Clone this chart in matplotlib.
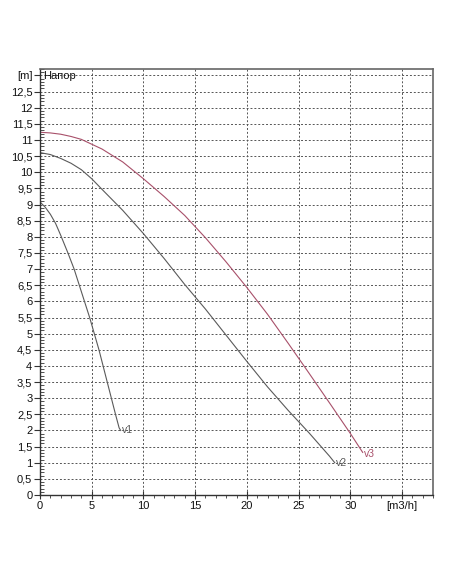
import matplotlib

matplotlib.use('Agg')
import matplotlib.pyplot as plt
from matplotlib.ticker import MultipleLocator

# pump curves: flow [m3/h] vs head [m]
v1_q = [0, 0.5, 1.0, 1.5, 2.0, 2.7, 3.3, 3.8, 4.3, 4.8, 5.25, 5.7, 6.1, 6.5, 6.9, 7.3, 7.65, 7.8]
v1_h = [9.08, 8.92, 8.7, 8.42, 8.05, 7.5, 7.0, 6.5, 6.0, 5.5, 5.0, 4.5, 4.0, 3.5, 3.0, 2.5, 2.08, 2.0]

v2_q = [0, 1, 2, 3, 4, 5, 6, 8, 10, 12, 14, 16, 18, 20, 22, 24, 26, 28, 28.5]
v2_h = [10.61, 10.55, 10.43, 10.28, 10.08, 9.8, 9.47, 8.82, 8.1, 7.33, 6.52, 5.76, 4.95, 4.14, 3.35, 2.62, 1.93, 1.2, 1.0]

v3_q = [0, 1, 2, 3, 4, 6, 8, 10, 12, 14, 16, 18, 20, 22, 24, 26, 28, 30, 31.2]
v3_h = [11.24, 11.22, 11.18, 11.11, 11.02, 10.72, 10.32, 9.8, 9.25, 8.66, 7.97, 7.22, 6.43, 5.6, 4.7, 3.78, 2.85, 1.91, 1.32]

x_ticks = [0, 5, 10, 15, 20, 25, 30, 35]
x_labels = ['0', '5', '10', '15', '20', '25', '30', '[m3/h]']
y_ticks = [i * 0.5 for i in range(27)]
y_labels = [f'{v:g}'.replace('.', ',') for v in y_ticks[:-1]] + ['[m]']

plt.rcParams['font.family'] = ['Liberation Sans', 'DejaVu Sans']

fig = plt.figure(figsize=(4.52, 5.84), dpi=100)
ax = fig.add_axes([0.0885, 0.1524, 0.8695, 0.7294])

grey = '#5a5a5a'
red = '#a8506a'
ax.plot(v1_q, v1_h, color=grey, lw=0.8)
ax.plot(v2_q, v2_h, color=grey, lw=0.8)
ax.plot(v3_q, v3_h, color=red, lw=0.8)
ax.text(v1_q[-1] + 0.1, v1_h[-1], 'v1', color=grey, fontsize=7.5, va='center', ha='left')
ax.text(v2_q[-1] + 0.1, v2_h[-1], 'v2', color=grey, fontsize=7.5, va='center', ha='left')
ax.text(v3_q[-1] + 0.1, v3_h[-1] - 0.05, 'v3', color=red, fontsize=7.5, va='center', ha='left')
ax.text(0.35, 12.98, 'Напор', fontsize=8, va='center', ha='left', color='#111111')

ax.set_xlim(0, 38)
ax.set_ylim(0, 13.2)
ax.set_xticks(x_ticks)
ax.set_xticklabels(x_labels)
ax.set_yticks(y_ticks)
ax.set_yticklabels(y_labels)
ax.xaxis.set_minor_locator(MultipleLocator(1))
ax.yaxis.set_minor_locator(MultipleLocator(0.1))
ax.tick_params(axis='both', which='major', labelsize=8, length=4, width=0.8,
               color='#333333', labelcolor='#111111', pad=1.5)
ax.tick_params(axis='x', which='major', direction='inout', length=6)
ax.tick_params(axis='y', which='minor', direction='in', length=3, width=0.6, color='#333333')
ax.tick_params(axis='x', which='minor', direction='out', length=2.5, width=0.6, color='#333333')

ax.grid(True, which='major', color='#555555', lw=0.7, linestyle=(0, (2, 2)))
ax.set_axisbelow(True)
for side in ['left', 'bottom']:
    ax.spines[side].set_color('#333333')
    ax.spines[side].set_linewidth(1.0)
for side in ['top', 'right']:
    ax.spines[side].set_color('#666666')
    ax.spines[side].set_linewidth(1.2)

fig.savefig('out.png', dpi=100)
